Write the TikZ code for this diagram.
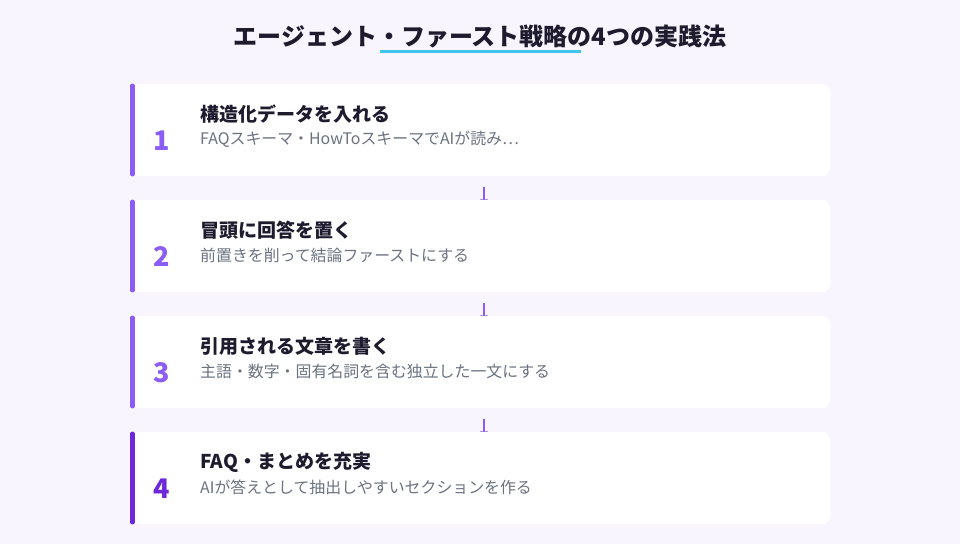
\documentclass[tikz,border=0pt]{standalone}
\usepackage{fontspec}
\setmainfont{Noto Sans CJK JP}
\usetikzlibrary{arrows.meta,backgrounds}

\definecolor{bgcol}{HTML}{F8F5FE}
\definecolor{ink}{HTML}{1E1B2E}
\definecolor{greytext}{HTML}{6B7280}
\definecolor{violet}{HTML}{8B5CF6}
\definecolor{deepviolet}{HTML}{6D28D9}
\definecolor{skyline}{HTML}{3EC4EF}

\tikzset{
  card/.style={rectangle,rounded corners=8pt,fill=white,minimum width=700pt,minimum height=92pt,inner sep=0pt},
  bar/.style={line width=4.5pt,line cap=round},
  num/.style={font=\fontsize{27}{30}\selectfont\bfseries},
  head/.style={anchor=west,inner sep=0pt,text=ink,font=\fontsize{19}{21}\selectfont\bfseries},
  sub/.style={anchor=west,inner sep=0pt,text=greytext,font=\fontsize{15.9}{18}\selectfont},
  link/.style={draw=violet,line width=1.8pt,-{Stealth[length=4pt,width=8pt]}}
}

\begin{document}
\begin{tikzpicture}[x=1pt,y=-1pt]

      \useasboundingbox (0,0) rectangle (960,544);

      \node[text=ink,font=\fontsize{24}{26}\selectfont\bfseries] (title) at (480,36) {エージェント・ファースト戦略の4つの実践法};
      \draw[skyline,line width=3pt] (380,51.5) -- (581,51.5);

      \begin{scope}[every node/.style={card}]
        \node (1) at (480,130) {};
        \node (2) at (480,246) {};
        \node (3) at (480,362) {};
        \node (4) at (480,478) {};
      \end{scope}

      \begin{scope}[every path/.style={bar}]
        \draw[violet] ([xshift=2.5pt,yshift=-2pt]1.north west) -- ([xshift=2.5pt,yshift=2pt]1.south west);
        \draw[violet] ([xshift=2.5pt,yshift=-2pt]2.north west) -- ([xshift=2.5pt,yshift=2pt]2.south west);
        \draw[violet] ([xshift=2.5pt,yshift=-2pt]3.north west) -- ([xshift=2.5pt,yshift=2pt]3.south west);
        \draw[deepviolet] ([xshift=2.5pt,yshift=-2pt]4.north west) -- ([xshift=2.5pt,yshift=2pt]4.south west);
      \end{scope}

      \node[num,text=violet] (n1) at (162,141) {1};
      \node[num,text=violet] (n2) at (162,257) {2};
      \node[num,text=violet] (n3) at (162,373) {3};
      \node[num,text=deepviolet] (n4) at (162,489) {4};

      \node[head] (h1) at (200,114) {構造化データを入れる};
      \node[sub]  (s1) at (200,139) {FAQスキーマ・HowToスキーマでAIが読み…};
      \node[head] (h2) at (200,230) {冒頭に回答を置く};
      \node[sub]  (s2) at (200,255) {前置きを削って結論ファーストにする};
      \node[head] (h3) at (200,346) {引用される文章を書く};
      \node[sub]  (s3) at (200,371) {主語・数字・固有名詞を含む独立した一文にする};
      \node[head] (h4) at (200,462) {FAQ・まとめを充実};
      \node[sub]  (s4) at (200,487) {AIが答えとして抽出しやすいセクションを作る};

      % short links between the cards, tips tucked under the next card
      \coordinate (a1) at (484,187);
      \coordinate (a2) at (484,303);
      \coordinate (a3) at (484,419);
      \begin{scope}[on background layer]
        \fill[bgcol] (0,0) rectangle (960,544);
        \path[link] (a1) -- ([yshift=-3pt]a1 |- 2.north);
        \path[link] (a2) -- ([yshift=-3pt]a2 |- 3.north);
        \path[link] (a3) -- ([yshift=-3pt]a3 |- 4.north);
      \end{scope}

    \end{tikzpicture}
\end{document}
